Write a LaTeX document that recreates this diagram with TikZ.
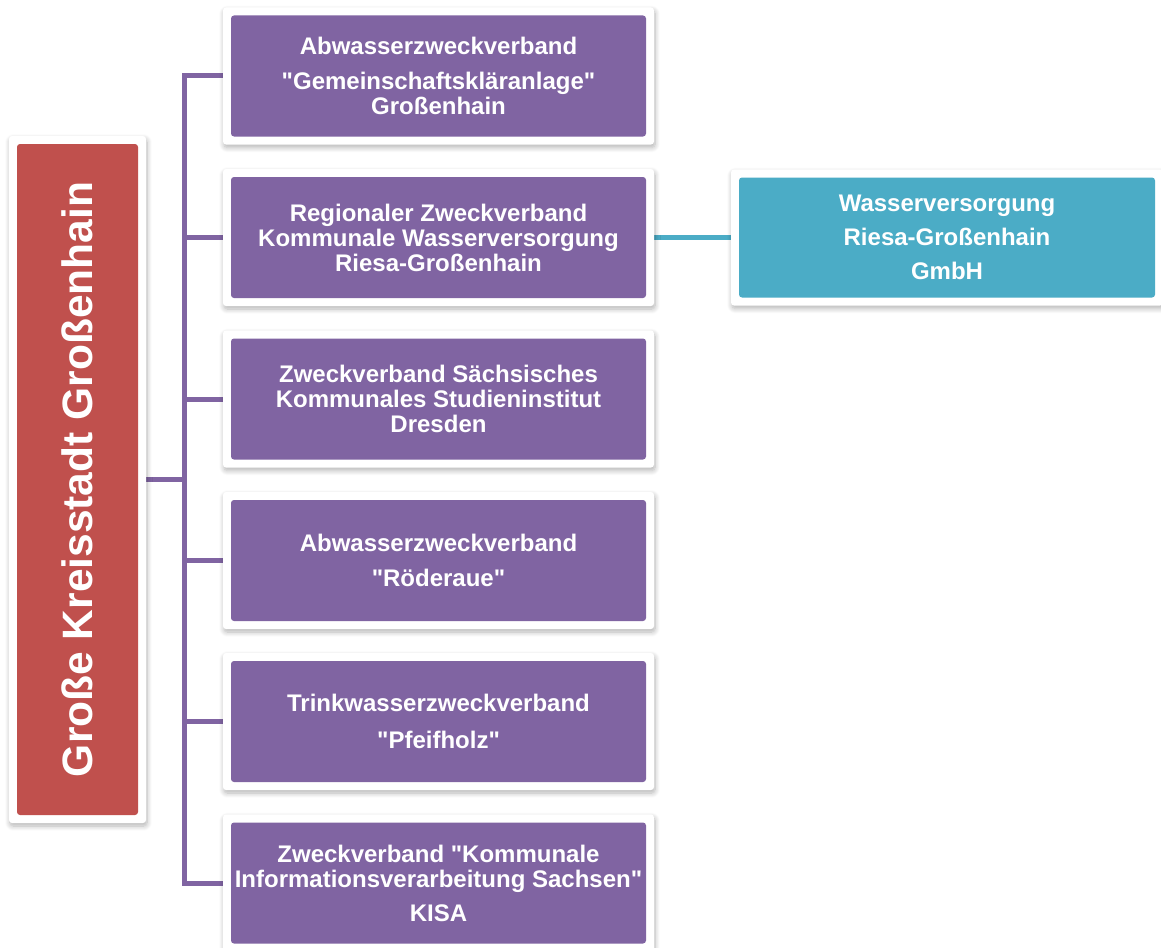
\documentclass[tikz,border=0pt]{standalone}
\usepackage{fontspec}
\usepackage{graphicx}
\setmainfont{Liberation Sans}[Ligatures=TeXOff]
\usetikzlibrary{shadows.blur,backgrounds}
\definecolor{viola}{HTML}{8064A2}
\definecolor{rosso}{HTML}{C0504D}
\definecolor{azzurro}{HTML}{4BACC6}
\tikzset{
  box/.style={fill=white, rounded corners=3pt, inner sep=0pt,
    text=white, align=center, font=\fontsize{24}{25}\selectfont\bfseries,
    blur shadow={shadow xshift=1pt, shadow yshift=-3pt, shadow blur radius=5pt,
      shadow blur steps=8, shadow opacity=30},
    path picture={\fill[#1] ([shift={(8pt,-8pt)}]path picture bounding box.north west)
      rectangle ([shift={(-8pt,8pt)}]path picture bounding box.south east);}},
  ente/.style={box=viola, minimum width=431pt, minimum height=137pt},
  link/.style={line width=5pt, color=viola},
}
\begin{document}
\begin{tikzpicture}[x=1pt,y=-1pt]
        \useasboundingbox (0,0) rectangle (1161,947);

        %%%%%%%%%% Nodi %%%%%%%%%%
        \node[box=rosso, minimum width=137pt, minimum height=687pt] (stadt) at (77.5,479.5)
            {\fontsize{42.5}{46}\selectfont\rotatebox{90}{Große Kreisstadt Großenhain}};
        \node[ente] (azv) at (438.5,76) {Abwasserzweckverband\\[10pt] "Gemeinschaftskläranlage"\\ Großenhain};
        \node[ente] (rzv) at (438.5,237.5) {Regionaler Zweckverband\\ Kommunale Wasserversorgung\\ Riesa-Großenhain};
        \node[ente] (ssi) at (438.5,399) {Zweckverband Sächsisches\\ Kommunales Studieninstitut\\ Dresden};
        \node[ente] (roe) at (438.5,560.5) {Abwasserzweckverband\\[10pt] "Röderaue"};
        \node[ente] (pfh) at (438.5,721.5) {Trinkwasserzweckverband\\[12pt] "Pfeifholz"};
        \node[ente] (kisa) at (438.5,883) {Zweckverband "Kommunale\\ Informationsverarbeitung Sachsen"\\[9pt] KISA};
        \node[box=azzurro, minimum width=432pt, minimum height=136pt] (wrg) at (947,237.5)
            {Wasserversorgung\\[9pt] Riesa-Großenhain\\[9pt] GmbH};

        %%%%%%%%% Linee %%%%%%%%%
        \begin{scope}[on background layer]
        \draw[link] (stadt.east) -- ++(38,0) |- (azv.west);
        \draw[link] (stadt.east) -- ++(38,0) |- (rzv.west);
        \draw[link] (stadt.east) -- ++(38,0) |- (ssi.west);
        \draw[link] (stadt.east) -- ++(38,0) |- (roe.west);
        \draw[link] (stadt.east) -- ++(38,0) |- (pfh.west);
        \draw[link] (stadt.east) -- ++(38,0) |- (kisa.west);
        \draw[link, color=azzurro] (rzv.east) -- (wrg.west);
        \end{scope}
\end{tikzpicture}
\end{document}
